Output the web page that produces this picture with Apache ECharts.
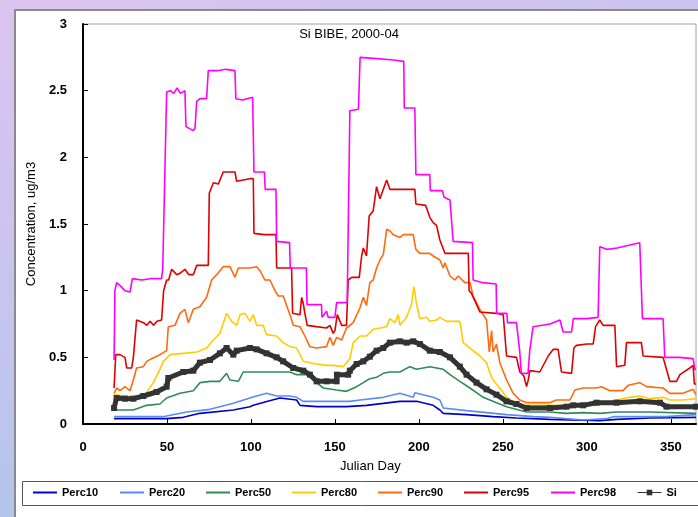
<!DOCTYPE html>
<html>
<head>
<meta charset="utf-8">
<script src="https://cdn.jsdelivr.net/npm/echarts@6/dist/echarts.min.js"></script>
<style>
html,body{margin:0;padding:0;width:698px;height:517px;overflow:hidden;}
body{background:linear-gradient(160deg,#dcc4f0 0%,#c4c4ee 45%,#98c6e6 100%);}
#panel{position:absolute;left:14px;top:9px;width:690px;height:520px;background:#fff;border:2px solid #8a8a8a;box-sizing:border-box;}
#chart{position:absolute;left:0;top:0;width:698px;height:517px;}
</style>
</head>
<body>
<div id="panel"></div>
<div id="chart"></div>
<script>
var seriesNames = ['Perc10','Perc20','Perc50','Perc80','Perc90','Perc95','Perc98','Si'];

var perc10 = [[18.5,0.04],[49.8,0.04],[59.7,0.05],[69.6,0.08],[89.5,0.105],[99.4,0.13],[101.4,0.14],[110,0.17],[117.3,0.195],[127.2,0.18],[129.2,0.14],[139.1,0.13],[156.9,0.13],[168.8,0.14],[178.8,0.155],[188.7,0.17],[198.6,0.17],[208.5,0.14],[212.5,0.105],[214.5,0.08],[228.4,0.07],[244.2,0.055],[258.1,0.045],[278,0.035],[307.7,0.025],[317.7,0.035],[337.5,0.045],[365,0.05]];

var perc20 = [[18.5,0.055],[47.8,0.055],[49.8,0.06],[61.7,0.09],[75.6,0.11],[89.5,0.155],[99.4,0.195],[103.4,0.21],[109.3,0.23],[115.3,0.21],[123.2,0.21],[127.2,0.2],[131.2,0.17],[139.1,0.17],[151,0.17],[158.9,0.17],[164.9,0.18],[178.8,0.2],[188.7,0.23],[196.6,0.2],[197.6,0.235],[208.5,0.2],[212.5,0.18],[214.5,0.12],[228.4,0.1],[240.3,0.085],[252.2,0.07],[268.1,0.055],[278,0.05],[297.8,0.03],[311.7,0.04],[315.7,0.055],[327.6,0.055],[347.4,0.055],[365,0.07]];

var perc50 = [[18.5,0.105],[30,0.105],[37.9,0.14],[45.8,0.15],[49.8,0.195],[57.7,0.23],[65.7,0.25],[69.6,0.31],[75.6,0.32],[81.5,0.32],[85.5,0.38],[87.5,0.33],[92.5,0.32],[95.4,0.39],[99.4,0.39],[123.2,0.39],[127.2,0.37],[135.1,0.37],[139.1,0.31],[143.1,0.27],[151,0.255],[156.9,0.245],[162.9,0.28],[166.9,0.31],[170.8,0.34],[174.8,0.35],[178.8,0.38],[182.7,0.39],[188.7,0.39],[194.6,0.43],[198.6,0.41],[206.5,0.43],[210.5,0.42],[214.5,0.41],[218.5,0.37],[224.4,0.32],[230.4,0.27],[238.3,0.2],[246.2,0.16],[252.2,0.13],[264.1,0.09],[278,0.09],[287.9,0.08],[297.8,0.085],[307.7,0.08],[317.7,0.09],[337.5,0.09],[365,0.08]];

var perc80 = [[18.5,0.22],[25,0.21],[30,0.2],[35.9,0.2],[41.9,0.31],[45.8,0.41],[47.8,0.47],[51.8,0.52],[59.7,0.53],[67.7,0.54],[73.6,0.57],[77.6,0.63],[81.5,0.68],[85.5,0.83],[88.5,0.77],[91.5,0.74],[93.5,0.82],[96.4,0.83],[99.4,0.77],[101.4,0.82],[103.4,0.74],[107.3,0.74],[109.3,0.67],[115.3,0.66],[119.2,0.61],[123.2,0.58],[127.2,0.57],[131.2,0.47],[135.1,0.46],[139.1,0.45],[145,0.44],[149,0.44],[154.9,0.43],[158.9,0.49],[160.9,0.61],[164.9,0.66],[168.8,0.66],[172.8,0.71],[176.8,0.72],[180.8,0.73],[182.7,0.79],[185.7,0.76],[187.7,0.82],[188.7,0.74],[192.7,0.8],[195.6,0.9],[197,1.03],[198.6,0.9],[200.6,0.79],[204.6,0.8],[206.5,0.77],[210.5,0.78],[212.5,0.8],[216.5,0.77],[224.4,0.77],[226.4,0.61],[228.4,0.59],[231.3,0.56],[236.3,0.51],[240.3,0.46],[242.3,0.38],[244.2,0.33],[248.2,0.27],[252.2,0.2],[256.2,0.17],[260.1,0.14],[278,0.14],[305,0.14],[317.7,0.18],[325.6,0.2],[331.5,0.21],[337.5,0.19],[345.4,0.2],[349.4,0.18],[357.3,0.18],[365,0.19]];

var perc90 = [[18.5,0.23],[20,0.27],[22,0.25],[25,0.28],[28,0.25],[30,0.33],[31.9,0.42],[35.9,0.43],[37.9,0.47],[40.9,0.49],[45.8,0.52],[49.8,0.55],[50.8,0.73],[54.8,0.74],[57.7,0.83],[60.7,0.86],[62.7,0.76],[65.7,0.86],[69.6,0.88],[73.6,0.95],[76.6,1.08],[79.6,1.12],[83.5,1.18],[87.5,1.18],[90.5,1.1],[92.5,1.17],[99.4,1.17],[103.4,1.18],[105.4,1.15],[108.3,1.08],[111.3,1.08],[114.3,1.0],[116.3,0.96],[119.2,0.96],[123.2,0.82],[125.2,0.74],[129.2,0.73],[132.1,0.66],[135.1,0.58],[139.1,0.57],[145,0.58],[147,0.65],[149,0.59],[151,0.65],[154,0.63],[156.9,0.72],[160.9,0.76],[164.9,0.87],[166.9,0.95],[168.8,0.89],[170.8,1.06],[172.8,1.08],[174.8,1.17],[176.8,1.23],[178.8,1.27],[180.8,1.46],[182.7,1.45],[184.7,1.42],[188.7,1.4],[190.7,1.42],[196.6,1.42],[198.2,1.31],[200.6,1.28],[206.5,1.28],[208.5,1.26],[212.5,1.23],[214.5,1.17],[215.5,1.21],[218.5,1.11],[221.4,1.08],[223.4,1.11],[227.4,1.06],[230.4,1.06],[232.3,0.96],[236.3,0.86],[240.3,0.78],[241.9,0.54],[243.3,0.7],[244.2,0.54],[246.2,0.6],[248.2,0.46],[252.2,0.33],[256.2,0.23],[260.1,0.18],[264.1,0.16],[278,0.16],[281.9,0.18],[289.9,0.18],[292.9,0.255],[297.8,0.27],[305.8,0.27],[308.7,0.28],[313.7,0.25],[321.6,0.25],[324.6,0.29],[331.5,0.31],[335.5,0.28],[345.4,0.27],[349.4,0.23],[357.3,0.23],[363.3,0.26],[365,0.22]];

var perc95 = [[18.5,0.27],[19.5,0.52],[22,0.52],[25,0.5],[26,0.42],[29,0.42],[30,0.5],[31,0.5],[31.9,0.78],[36,0.76],[38,0.74],[40,0.77],[42,0.74],[44,0.77],[46.8,0.78],[48,1.0],[49.8,1.08],[51,1.08],[52.8,1.16],[55.8,1.12],[57.7,1.13],[60.7,1.16],[63,1.12],[65.7,1.12],[67.7,1.19],[74.6,1.19],[75.2,1.73],[77.6,1.81],[80.6,1.8],[83.5,1.89],[90.5,1.89],[91.5,1.82],[99.4,1.84],[101.4,1.84],[101.8,1.43],[108,1.42],[114.9,1.42],[115.3,1.17],[124.2,1.17],[124.8,0.83],[129.2,0.82],[130.2,0.95],[131.2,0.9],[132.1,0.83],[133.5,0.74],[139,0.73],[145,0.72],[147,0.74],[149,0.68],[150,0.7],[151.4,0.82],[154,0.74],[156.9,0.74],[157.9,1.08],[160,1.1],[164.5,1.1],[165.9,1.26],[166.9,1.32],[168.8,1.26],[170.4,1.56],[172.8,1.6],[174.8,1.78],[176.8,1.69],[180.8,1.83],[182.7,1.76],[188.7,1.76],[197.6,1.76],[198.2,1.65],[204,1.64],[206.5,1.55],[208.5,1.51],[210.5,1.49],[212.5,1.38],[215.5,1.28],[229.4,1.28],[229.9,1.0],[231.3,0.98],[236.3,0.84],[246,0.83],[250.2,0.82],[252.2,0.51],[258.1,0.5],[260.1,0.39],[262.5,0.36],[264.1,0.28],[265.1,0.33],[266.1,0.4],[272,0.39],[277,0.51],[280,0.56],[282.9,0.56],[284.9,0.39],[290.9,0.38],[292.3,0.57],[293.8,0.59],[300,0.6],[303.8,0.6],[305.2,0.73],[307.7,0.78],[309.7,0.74],[316.7,0.74],[317.7,0.43],[322.6,0.44],[323.6,0.61],[332.5,0.61],[333.5,0.51],[345.4,0.5],[349.4,0.32],[353.4,0.32],[355.4,0.37],[361.3,0.42],[363.3,0.44],[364,0.3],[365,0.3]];

var perc98 = [[18.5,0.48],[19,1.0],[20,1.06],[22,1.04],[25,1.0],[28,0.99],[29.4,1.09],[35,1.08],[40,1.09],[46.8,1.09],[47.5,1.17],[48.4,1.17],[49.8,2.49],[52,2.5],[54,2.48],[56,2.52],[58,2.48],[60.7,2.5],[61.3,2.23],[65.7,2.2],[66.7,2.22],[67.7,2.42],[69.6,2.44],[73.6,2.44],[74.6,2.65],[80,2.65],[85,2.66],[90.5,2.65],[91,2.44],[95,2.43],[101,2.45],[101.8,1.89],[108,1.89],[108.5,1.76],[114.9,1.76],[115.3,1.37],[123,1.36],[123.4,1.17],[133,1.17],[133.4,0.895],[142,0.895],[142.3,0.8],[145,0.845],[146,0.8],[150,0.8],[151,0.91],[157.3,0.91],[158.9,2.35],[164,2.36],[165,2.75],[175,2.74],[185,2.73],[191,2.72],[191.3,2.37],[197.6,2.37],[198.2,1.87],[206.5,1.87],[206.8,1.75],[214,1.75],[215,1.7],[218.5,1.68],[220.4,1.37],[231.9,1.36],[232.3,1.08],[238,1.06],[246,1.05],[246.3,0.83],[252.4,0.83],[252.8,0.76],[258.1,0.76],[260,0.55],[261,0.38],[265,0.38],[266,0.55],[268,0.73],[278,0.75],[284,0.78],[285.9,0.69],[290.9,0.69],[292,0.79],[300,0.79],[306.7,0.8],[307.7,1.33],[312,1.31],[318,1.32],[325,1.34],[331.5,1.36],[332.5,1.36],[333.1,0.79],[345.4,0.79],[346.4,0.5],[355,0.5],[363.3,0.49],[364.3,0.41],[365,0.41]];

var si = [[18.5,0.12],[20,0.195],[25,0.19],[30,0.19],[35.9,0.21],[43.8,0.24],[49.8,0.28],[50.8,0.345],[59.7,0.39],[65.7,0.4],[69.6,0.46],[75.6,0.48],[81.5,0.53],[85.5,0.57],[89.5,0.52],[91.5,0.55],[99.4,0.57],[103.4,0.56],[109.3,0.53],[115.3,0.5],[119.2,0.47],[125.2,0.42],[131.2,0.4],[135.1,0.37],[139.1,0.32],[145,0.32],[151,0.32],[151.2,0.37],[157.9,0.37],[158.9,0.4],[162.9,0.45],[166.9,0.47],[170.8,0.505],[174.8,0.55],[178.8,0.57],[182.7,0.61],[188.7,0.62],[192.7,0.61],[196.6,0.62],[200.6,0.6],[206.5,0.55],[212.5,0.54],[218.5,0.5],[224.4,0.43],[228.4,0.37],[234.3,0.31],[240.3,0.26],[246.2,0.22],[252.2,0.17],[258.1,0.15],[264.1,0.12],[278,0.12],[287.9,0.13],[291.9,0.14],[297.8,0.14],[305.8,0.16],[317.7,0.16],[331.5,0.17],[343.5,0.16],[347.4,0.13],[365,0.13]];

var seriesData = [perc10, perc20, perc50, perc80, perc90, perc95, perc98, si];
var seriesColors = ['#0000cc','#5a8cf0','#2e8b57','#ffcc00','#ff6a10','#e00000','#ff00ff','#333333'];
var legendLeft = [33, 120, 206, 292, 378, 464, 551, 637];

var FONT = '"Liberation Sans", Arial, Helvetica, sans-serif';

var chart = echarts.init(document.getElementById('chart'), null, {renderer: 'canvas'});

var series = seriesNames.map(function (n, i) {
  var isSi = n === 'Si';
  return {
    name: n,
    type: 'line',
    data: seriesData[i],
    color: seriesColors[i],
    showSymbol: isSi,
    showAllSymbol: true,
    symbol: isSi ? 'rect' : 'none',
    symbolSize: 6,
    lineStyle: {width: isSi ? 5 : 1.6, color: seriesColors[i]},
    itemStyle: {color: seriesColors[i]},
    z: 2 + i
  };
});

var legends = seriesNames.map(function (n, i) {
  var isSi = n === 'Si';
  return {
    left: legendLeft[i],
    top: 487,
    itemWidth: 24,
    itemHeight: isSi ? 7 : 2,
    itemGap: 0,
    padding: 0,
    icon: isSi ? undefined : 'rect',
    data: isSi ? [{name: n, lineStyle: {width: 1}}] : [{name: n, icon: 'rect'}],
    textStyle: {fontFamily: FONT, fontSize: 11, fontWeight: 'bold', color: '#000'}
  };
});

var option = {
  animation: false,
  backgroundColor: 'transparent',
  title: {
    text: 'Si BIBE, 2000-04',
    left: 'center',
    top: 23,
    textStyle: {fontFamily: FONT, fontSize: 13, fontWeight: 'normal', color: '#000'}
  },
  legend: legends,
  grid: {
    left: 83, right: 2, top: 24, bottom: 93,
    show: true, borderColor: '#a0a0a0', borderWidth: 1, backgroundColor: '#fff'
  },
  xAxis: {
    type: 'value',
    min: 0, max: 365, interval: 50,
    axisLine: {show: true, onZero: false, lineStyle: {color: '#000', width: 2}},
    axisTick: {show: true, inside: true, length: 5, lineStyle: {color: '#000', width: 1}},
    axisLabel: {showMaxLabel: false, margin: 17, fontFamily: FONT, fontSize: 13, fontWeight: 'bold', color: '#000'},
    splitLine: {show: false}
  },
  yAxis: {
    type: 'value',
    min: 0, max: 3, interval: 0.5,
    name: 'Concentration, ug/m3',
    nameLocation: 'middle',
    nameGap: 45,
    nameTextStyle: {fontFamily: FONT, fontSize: 13, color: '#000'},
    axisLine: {show: true, lineStyle: {color: '#000', width: 2}},
    axisTick: {show: true, inside: true, length: 5, lineStyle: {color: '#000', width: 1}},
    axisLabel: {margin: 16, fontFamily: FONT, fontSize: 13, fontWeight: 'bold', color: '#000'},
    splitLine: {show: false}
  },
  graphic: [
    {type: 'text', left: 340, top: 460, style: {text: 'Julian Day', font: '13px ' + FONT, fill: '#000'}},
    {type: 'rect', shape: {x: 22.5, y: 481.5, width: 690, height: 24}, style: {fill: 'none', stroke: '#555', lineWidth: 1}, z: -1}
  ],
  series: series
};

chart.setOption(option);
</script>
</body>
</html>
